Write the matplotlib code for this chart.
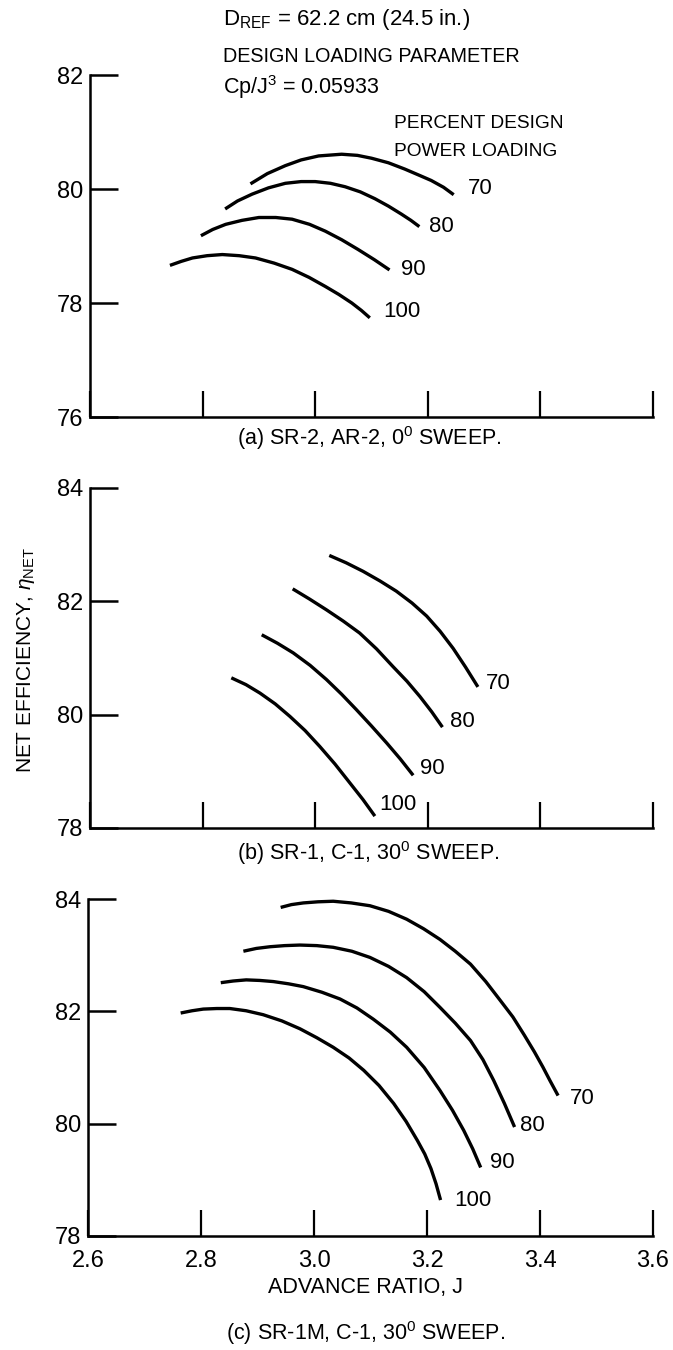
import numpy as np
import matplotlib
matplotlib.use("Agg")
import matplotlib.pyplot as plt

plt.rcParams['font.family'] = ['Liberation Sans', 'DejaVu Sans']
plt.rcParams['mathtext.fontset'] = 'custom'
plt.rcParams['mathtext.rm'] = 'Liberation Sans'
plt.rcParams['mathtext.it'] = 'Liberation Sans:italic'

# percent design power loading
loadings = ['70', '80', '90', '100']

# (a) SR-2, AR-2, 0 deg sweep
a_J = [
    [2.885, 2.915, 2.947, 2.975, 3.006, 3.047, 3.075, 3.100, 3.130, 3.159, 3.185, 3.206, 3.228, 3.246],
    [2.840, 2.862, 2.888, 2.917, 2.947, 2.975, 3.000, 3.027, 3.053, 3.080, 3.106, 3.130, 3.153, 3.170, 3.185],
    [2.797, 2.818, 2.841, 2.870, 2.900, 2.930, 2.959, 2.990, 3.018, 3.047, 3.076, 3.105, 3.132],
    [2.742, 2.762, 2.782, 2.808, 2.835, 2.865, 2.894, 2.927, 2.959, 2.989, 3.018, 3.042, 3.065, 3.082, 3.097],
]
a_eff = [
    [80.09, 80.27, 80.41, 80.51, 80.58, 80.61, 80.59, 80.54, 80.46, 80.35, 80.24, 80.15, 80.03, 79.90],
    [79.65, 79.79, 79.91, 80.02, 80.10, 80.13, 80.13, 80.10, 80.04, 79.95, 79.83, 79.70, 79.56, 79.45, 79.34],
    [79.18, 79.29, 79.38, 79.45, 79.50, 79.50, 79.47, 79.38, 79.26, 79.11, 78.94, 78.76, 78.58],
    [78.66, 78.73, 78.79, 78.83, 78.85, 78.83, 78.79, 78.70, 78.59, 78.45, 78.29, 78.15, 78.00, 77.87, 77.74],
]
a_lab = [(3.272, 80.0), (3.202, 79.34), (3.152, 78.59), (3.120, 77.85)]

# (b) SR-1, C-1, 30 deg sweep
b_J = [
    [3.025, 3.055, 3.085, 3.115, 3.144, 3.172, 3.198, 3.222, 3.245, 3.267, 3.289],
    [2.960, 2.990, 3.020, 3.050, 3.079, 3.109, 3.138, 3.163, 3.186, 3.207, 3.226],
    [2.905, 2.933, 2.961, 2.991, 3.020, 3.047, 3.073, 3.100, 3.127, 3.151, 3.174],
    [2.851, 2.877, 2.902, 2.929, 2.955, 2.982, 3.008, 3.035, 3.062, 3.085, 3.106],
]
b_eff = [
    [82.81, 82.68, 82.53, 82.36, 82.18, 81.97, 81.74, 81.47, 81.17, 80.84, 80.49],
    [82.22, 82.04, 81.85, 81.65, 81.44, 81.16, 80.85, 80.59, 80.32, 80.05, 79.78],
    [81.41, 81.26, 81.09, 80.87, 80.62, 80.36, 80.09, 79.80, 79.50, 79.22, 78.93],
    [80.65, 80.53, 80.38, 80.19, 79.97, 79.72, 79.44, 79.13, 78.79, 78.50, 78.21],
]
b_lab = [(3.303, 80.55), (3.240, 79.88), (3.186, 79.05), (3.114, 78.42)]

# (c) SR-1M, C-1, 30 deg sweep
c_J = [
    [2.941, 2.960, 2.981, 3.007, 3.034, 3.066, 3.099, 3.132, 3.164, 3.194, 3.223, 3.250, 3.277,
     3.304, 3.330, 3.352, 3.372, 3.390, 3.405, 3.418, 3.432],
    [2.875, 2.898, 2.922, 2.948, 2.975, 3.005, 3.034, 3.067, 3.099, 3.132, 3.164, 3.195, 3.223,
     3.250, 3.277, 3.299, 3.318, 3.337, 3.355],
    [2.835, 2.857, 2.880, 2.904, 2.928, 2.955, 2.981, 3.014, 3.046, 3.076, 3.105, 3.135, 3.164,
     3.195, 3.223, 3.245, 3.265, 3.281, 3.295],
    [2.764, 2.784, 2.804, 2.828, 2.851, 2.880, 2.910, 2.943, 2.975, 3.005, 3.034, 3.062, 3.088,
     3.115, 3.141, 3.163, 3.183, 3.196, 3.207, 3.216, 3.224],
]
c_eff = [
    [83.85, 83.90, 83.93, 83.95, 83.96, 83.93, 83.88, 83.78, 83.64, 83.47, 83.28, 83.07, 82.84,
     82.53, 82.19, 81.90, 81.58, 81.28, 81.01, 80.76, 80.50],
    [83.07, 83.12, 83.15, 83.17, 83.18, 83.17, 83.14, 83.07, 82.96, 82.80, 82.60, 82.35, 82.07,
     81.79, 81.48, 81.14, 80.77, 80.36, 79.94],
    [82.51, 82.54, 82.56, 82.55, 82.53, 82.49, 82.44, 82.34, 82.22, 82.06, 81.86, 81.63, 81.36,
     81.00, 80.59, 80.24, 79.88, 79.55, 79.22],
    [81.97, 82.01, 82.04, 82.05, 82.05, 82.01, 81.94, 81.83, 81.69, 81.53, 81.36, 81.17, 80.95,
     80.68, 80.36, 80.04, 79.70, 79.46, 79.20, 78.93, 78.64],
]
c_lab = [(3.452, 80.45), (3.365, 79.97), (3.311, 79.30), (3.248, 78.63)]

x_ticks = [2.6, 2.8, 3.0, 3.2, 3.4, 3.6]
x_ticklabels = ['2.6', '2.8', '3.0', '3.2', '3.4', '3.6']

W, H = 673, 1350
fig = plt.figure(figsize=(W / 100, H / 100), dpi=100)

def px_box(left, top, right, bottom):
    return [left / W, 1 - bottom / H, (right - left) / W, (bottom - top) / H]

TICK_FS = 17
LAB_FS = 16

def panel(rect, ylim, yticks, Js, effs, labs, show_x):
    ax = fig.add_axes(rect)
    for J, e, lab, (lx, ly) in zip(Js, effs, loadings, labs):
        ax.plot(J, e, color='black', lw=2.4, solid_capstyle='butt',
                solid_joinstyle='round')
        ax.text(lx, ly, lab, fontsize=LAB_FS, ha='left', va='center')
    ax.set_xlim(2.6, 3.6)
    ax.set_ylim(*ylim)
    ax.set_xticks(x_ticks)
    ax.set_yticks(yticks)
    ax.set_yticklabels([str(t) for t in yticks])
    if show_x:
        ax.set_xticklabels(x_ticklabels)
    else:
        ax.set_xticklabels([])
    for s in ['top', 'right']:
        ax.spines[s].set_visible(False)
    for s in ['left', 'bottom']:
        ax.spines[s].set_linewidth(1.8)
    ax.tick_params(axis='y', direction='in', length=20, width=1.8,
                   labelsize=TICK_FS, pad=5)
    ax.tick_params(axis='x', direction='in', length=19, width=1.6,
                   labelsize=TICK_FS, pad=10)
    return ax

panel(px_box(90, 75, 653, 417), (76, 82), [76, 78, 80, 82],
      a_J, a_eff, a_lab, False)
panel(px_box(90, 488, 653, 828), (78, 84), [78, 80, 82, 84],
      b_J, b_eff, b_lab, False)
panel(px_box(88, 899, 653, 1236), (78, 84), [78, 80, 82, 84],
      c_J, c_eff, c_lab, True)

def ftext(x, y, s, fs, **kw):
    fig.text(x / W, 1 - y / H, s, fontsize=fs, **kw)

ftext(223, 20, r'D$_{\mathrm{REF}}$ = 62.2 cm (24.5 in.)', 16, va='center')
ftext(223, 57, 'DESIGN LOADING PARAMETER', 14.2, va='center')
ftext(223, 87, r'Cp/J$^{\mathrm{3}}$ = 0.05933', 15.5, va='center')
ftext(394, 123, 'PERCENT DESIGN', 13.8, va='center')
ftext(394, 151, 'POWER LOADING', 13.8, va='center')

ftext(369, 438, r'(a) SR-2, AR-2, 0$^{\mathrm{0}}$ SWEEP.', 15.5, ha='center', va='center')
ftext(368, 853, r'(b) SR-1, C-1, 30$^{\mathrm{0}}$ SWEEP.', 15.5, ha='center', va='center')
ftext(365, 1287, 'ADVANCE RATIO, J', 15.5, ha='center', va='center')
ftext(366, 1333, r'(c) SR-1M, C-1, 30$^{\mathrm{0}}$ SWEEP.', 15.5, ha='center', va='center')
ftext(26, 660, r'NET EFFICIENCY, $\eta_{\mathrm{NET}}$', 15, ha='center', va='center',
      rotation=90)

fig.savefig('out.png', dpi=100)
